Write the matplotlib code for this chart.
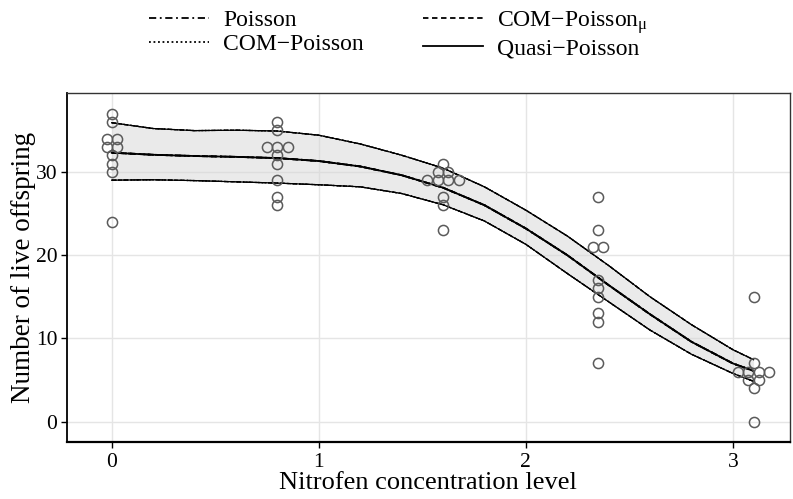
import numpy as np
import matplotlib.pyplot as plt

# observed counts per concentration level
conc = [0.0, 0.8, 1.6, 2.35, 3.1]
offspring = [
    [37, 36, 34, 34, 33, 33, 32, 31, 30, 24],
    [36, 35, 33, 33, 33, 32, 31, 29, 27, 26],
    [31, 30, 30, 29, 29, 29, 29, 27, 26, 23],
    [27, 23, 21, 21, 17, 16, 15, 13, 12, 7],
    [15, 7, 6, 6, 6, 6, 5, 5, 4, 0],
]

# fitted mean and confidence limits
grid = [0.0, 0.2, 0.4, 0.6, 0.8, 1.0, 1.2, 1.4, 1.6, 1.8, 2.0, 2.2, 2.4, 2.6, 2.8, 3.0, 3.1]
fit_mean = [32.3, 32.05, 31.9, 31.8, 31.65, 31.3, 30.65, 29.6, 28.1, 26.0, 23.2,
            20.0, 16.4, 12.9, 9.6, 7.0, 6.1]
fit_upper = [35.9, 35.2, 34.95, 35.0, 34.9, 34.4, 33.35, 32.0, 30.45, 28.2, 25.4,
             22.3, 18.75, 15.0, 11.65, 8.65, 7.45]
fit_lower = [29.0, 29.05, 28.95, 28.8, 28.65, 28.45, 28.2, 27.4, 26.05, 24.1, 21.3,
             17.8, 14.4, 11.0, 8.1, 5.8, 4.85]

models = ["Poisson", "COM\u2212Poisson", "COM\u2212Poisson$_\\mathrm{\\mu}$", "Quasi\u2212Poisson"]
styles = [(0, (4, 2, 1, 2)), (0, (1, 1.5)), (0, (3, 2)), "-"]

plt.rcParams['font.family'] = ['Liberation Serif', 'DejaVu Serif']
plt.rcParams['mathtext.fontset'] = 'custom'
plt.rcParams['mathtext.rm'] = 'Liberation Serif'
plt.rcParams['mathtext.it'] = 'Liberation Serif:italic'

fig = plt.figure(figsize=(7.93, 4.99), dpi=100)
ax = fig.add_axes([0.0845, 0.1136, 0.9115, 0.7006])

ax.fill_between(grid, fit_lower, fit_upper, color='#d6d6d6', alpha=0.5, lw=0, zorder=1)
handles = []
for name, ls in zip(models, styles):
    for curve in (fit_upper, fit_lower):
        ax.plot(grid, curve, color='black', lw=0.9, ls=ls, zorder=2)
    h, = ax.plot(grid, fit_mean, color='black', lw=1.3, ls=ls, zorder=3)
    handles.append(h)

# centre-swarm tied values horizontally
w = 0.05
for x0, ys in zip(conc, offspring):
    ys = np.array(ys)
    xs = np.full(len(ys), x0, dtype=float)
    for v in np.unique(ys):
        idx = np.where(ys == v)[0]
        k = len(idx)
        xs[idx] = x0 + (np.arange(k) - (k - 1) / 2) * w
    ax.plot(xs, ys, 'o', ms=7.3, mfc='none', mec='#5a5a5a', mew=1.1, zorder=4)

ax.set_xlim(-0.216, 3.275)
ax.set_ylim(-2.47, 39.5)
ax.set_xticks([0, 1, 2, 3])
ax.set_yticks([0, 10, 20, 30])
ax.grid(True, color='#e5e5e5', lw=1.0)
ax.set_axisbelow(True)
ax.tick_params(labelsize=15.5, length=4, width=1, color='black')
ax.tick_params(axis='x', pad=4)
ax.tick_params(axis='y', pad=3)
for s in ax.spines.values():
    s.set_color('#333333')
    s.set_linewidth(1.0)
ax.spines['bottom'].set_color('black')
ax.spines['bottom'].set_linewidth(1.6)
ax.spines['left'].set_color('black')
ax.spines['left'].set_linewidth(1.3)

ax.set_xlabel("Nitrofen concentration level", fontsize=19, labelpad=0)
ax.set_ylabel("Number of live offspring", fontsize=19.5, labelpad=0)

fig.legend(handles, models, loc='upper left', bbox_to_anchor=(0.161, 1.025), ncol=2,
           frameon=False, fontsize=17, handlelength=2.55, handletextpad=0.6,
           columnspacing=2.5, labelspacing=0.1)

fig.savefig("out.png", dpi=100)
